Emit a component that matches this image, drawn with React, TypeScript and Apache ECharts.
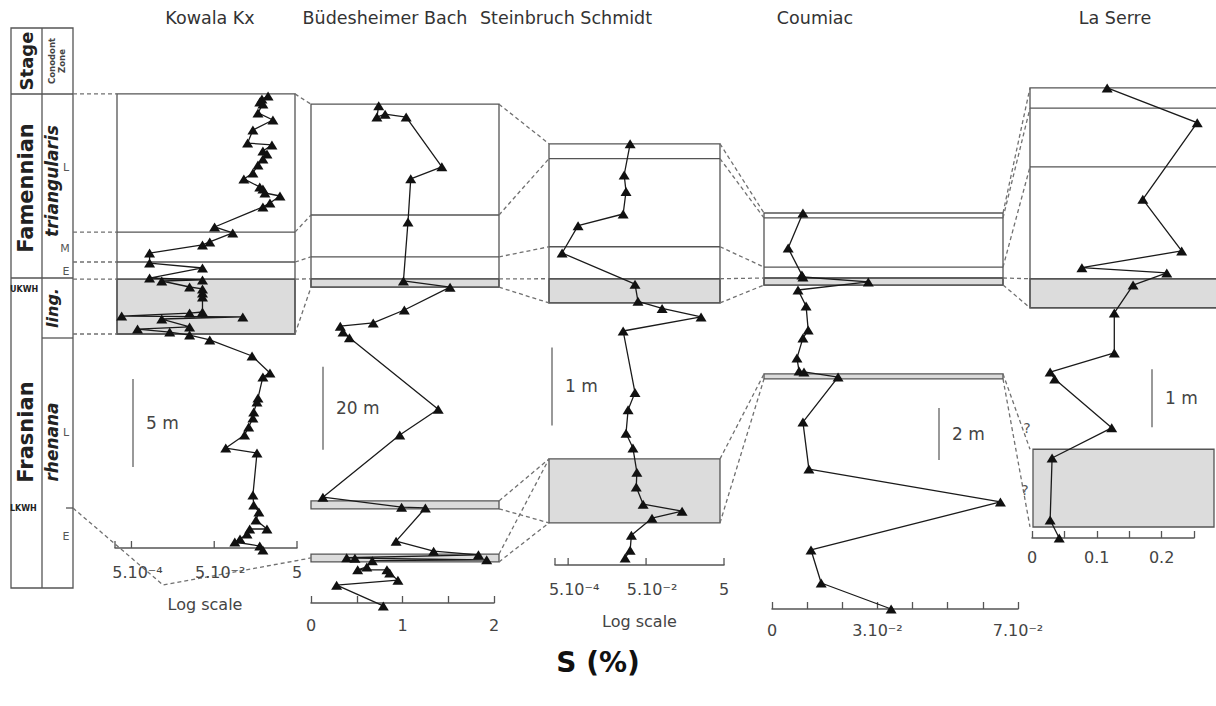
import React, { useEffect, useRef } from "react";
import * as echarts from "echarts";

const FONT = "'DejaVu Sans', 'Liberation Sans', sans-serif";

const sectionNames = ["Kowala Kx", "Büdesheimer Bach", "Steinbruch Schmidt", "Coumiac", "La Serre"];

// [S (%), height above the base of each logged interval (m)]
const kowala: number[][] = [
  [1.0, 25.68], [0.71, 25.51], [0.63, 25.34], [0.75, 25.23], [0.57, 24.72], [1.31, 24.32],
  [0.43, 23.75], [0.32, 23.01], [1.24, 22.9], [0.75, 22.56], [0.94, 22.39], [0.75, 22.1],
  [0.57, 21.76], [0.43, 21.31], [0.26, 20.97], [0.63, 20.51], [0.75, 20.4], [0.84, 20.17],
  [1.94, 20.0], [1.11, 19.6], [0.75, 19.38], [0.051, 18.24], [0.14, 17.9], [0.039, 17.39],
  [0.026, 17.22], [0.00137, 16.76], [0.00137, 16.19], [0.026, 15.91], [0.00137, 15.34],
  [0.026, 15.23], [0.0027, 15.17], [0.0127, 14.83], [0.026, 14.72], [0.026, 14.49],
  [0.026, 14.26], [0.026, 13.41], [0.0127, 13.35], [0.00029, 13.18], [0.245, 13.13],
  [0.0027, 13.01], [0.0127, 12.56], [0.0007, 12.44], [0.0042, 12.27], [0.0127, 12.1],
  [0.039, 11.82], [0.41, 10.91], [1.11, 9.94], [0.75, 9.72], [0.57, 8.52], [0.54, 8.3],
  [0.45, 7.73], [0.43, 7.39], [0.34, 6.88], [0.27, 6.42], [0.095, 5.68], [0.54, 5.4],
  [0.43, 3.01], [0.45, 2.44], [0.6, 2.05], [0.51, 1.59], [0.94, 1.08], [0.36, 1.08],
  [0.31, 0.8], [0.21, 0.51], [0.157, 0.34], [0.63, 0.11], [0.75, -0.11],
];
const budesheim: number[][] = [
  [0.74, 119.8], [0.72, 117.1], [0.81, 117.8], [1.04, 117.1], [1.43, 105.1], [1.09, 102.2],
  [1.06, 91.8], [1.01, 77.6], [1.52, 76.1], [1.02, 70.6], [0.68, 67.5], [0.32, 66.7],
  [0.35, 65.3], [0.42, 63.9], [1.39, 46.7], [0.97, 40.5], [0.13, 25.5], [0.99, 23.1],
  [1.25, 22.9], [0.93, 14.9], [1.34, 12.5], [1.83, 11.6], [0.39, 10.9], [0.48, 10.8],
  [1.92, 10.4], [0.67, 10.2], [0.61, 8.7], [0.51, 8.0], [0.83, 8.0], [0.86, 7.2],
  [0.95, 5.5], [0.28, 4.3], [0.79, -0.7],
];
const steinbruch: number[][] = [
  [0.0195, 5.4], [0.0137, 5.0], [0.0153, 4.79], [0.0129, 4.5], [0.0009, 4.35], [0.00035, 4.0],
  [0.026, 3.6], [0.031, 3.38], [0.129, 3.29], [1.29, 3.18], [0.0129, 3.0], [0.026, 2.21],
  [0.0173, 1.99], [0.0153, 1.69], [0.023, 1.5], [0.029, 1.19], [0.028, 1.0], [0.042, 0.78],
  [0.42, 0.69], [0.071, 0.6], [0.021, 0.38], [0.0195, 0.19], [0.0145, 0.09],
];
const coumiac: number[][] = [
  [0.0088, 15.23], [0.0046, 13.88], [0.0085, 12.85], [0.0088, 12.77], [0.0274, 12.58],
  [0.0074, 12.27], [0.0097, 11.65], [0.0103, 10.73], [0.0088, 10.42], [0.0071, 9.65],
  [0.0077, 9.15], [0.0091, 9.12], [0.0188, 8.92], [0.0088, 7.19], [0.0105, 5.38],
  [0.065, 4.12], [0.0111, 2.27], [0.014, 1.0], [0.0339, 0],
];
const laSerre: number[][] = [
  [0.116, 7.76], [0.255, 7.16], [0.171, 5.84], [0.231, 4.95], [0.077, 4.66], [0.208, 4.57],
  [0.156, 4.36], [0.127, 3.88], [0.127, 3.19], [0.028, 2.86], [0.035, 2.74], [0.123, 1.9],
  [0.031, 1.38], [0.028, 0.31], [0.042, 0],
];

// log-axis ticks
const logTicks = [5e-4, 5e-2, 5];
const logTickLabels = ["5.10⁻⁴", "5.10⁻²", "5"];

// zone boundaries (heights, m) per section
const boxes = [[25.8, 12.16], [120.2, 76.1], [5.4, 3.36], [15.23, 12.46], [7.76, 3.97]];
const zoneLines = [
  [17.95, 16.25, 15.28],
  [93.5, 83.4, 78.1],
  [5.21, 4.08, 3.67],
  [15.04, 13.15, 12.73],
  [7.41, 6.4, 4.47],
];
const grayBands: number[][][] = [
  [[15.28, 12.16]],
  [[78.1, 76.1], [24.6, 22.7], [11.8, 9.9]],
  [[3.67, 3.36], [1.36, 0.54]],
  [[12.73, 12.46], [9.04, 8.85]],
  [[4.47, 3.97], [1.53, 0.19]],
];
// correlation tie lines [height in left section, height in right section]
const tiesColumnKowala = [25.8, 17.95, 16.25, 15.28, 12.16];
const ties = [
  [[25.8, 120.2], [17.95, 93.5], [16.25, 83.4], [15.28, 78.1], [12.16, 76.1]],
  [[120.2, 5.4], [93.5, 5.21], [83.4, 4.08], [78.1, 3.67], [76.1, 3.36], [24.6, 1.36], [22.7, 0.54], [11.8, 1.36], [9.9, 0.54]],
  [[5.4, 15.23], [5.21, 15.04], [4.08, 13.15], [3.67, 12.73], [3.36, 12.46], [1.36, 9.04], [0.54, 8.85]],
  [[15.23, 7.76], [15.04, 7.41], [13.15, 6.4], [12.73, 4.47], [12.46, 3.97], [9.04, 1.53], [8.85, 0.19]],
];
// scale bars [start height, length m, label]
const scaleBars: [number, number, string][] = [
  [4.6, 5, "5 m"], [36.9, 20, "20 m"], [1.79, 1, "1 m"], [5.73, 2, "2 m"], [1.91, 1, "1 m"],
];

// layout (pixels)
const layout = [
  { left: 115, right: 297, axisY: 548, pxPerM: 17.6, yMax: 25.8, boxL: 117, boxR: 295, titleX: 210, barX: 133 },
  { left: 311, right: 494, axisY: 603, pxPerM: 4.15, yMax: 121, boxL: 311, boxR: 499, titleX: 385, barX: 323 },
  { left: 555, right: 724, axisY: 565, pxPerM: 78, yMax: 5.6, boxL: 549, boxR: 720, titleX: 566, barX: 552 },
  { left: 772, right: 1018, axisY: 609, pxPerM: 26, yMax: 15.5, boxL: 764, boxR: 1003, titleX: 815, barX: 939 },
  { left: 1032, right: 1194, axisY: 538, pxPerM: 58, yMax: 8, boxL: 1030, boxR: 1222, titleX: 1115, barX: 1152 },
];

const axisStyle = {
  axisLine: { show: true, onZero: false, lineStyle: { color: "#555", width: 1.5 } },
  splitLine: { show: false },
  axisTick: { show: true, inside: true, length: 7, lineStyle: { color: "#555", width: 1.3 } },
};
const labelStyle = { color: "#444", fontSize: 16, fontFamily: FONT, showMinLabel: true, showMaxLabel: true, hideOverlap: false };

function baseOption() {
  const data = [kowala, budesheim, steinbruch, coumiac, laSerre];
  return {
    animation: false,
    backgroundColor: "#fff",
    grid: layout.map((p) => ({
      left: p.left,
      top: p.axisY - p.yMax * p.pxPerM,
      width: p.right - p.left,
      height: p.yMax * p.pxPerM,
    })),
    yAxis: layout.map((p, i) => ({ type: "value", gridIndex: i, min: 0, max: p.yMax, show: false })),
    xAxis: [
      { type: "log", gridIndex: 0, logBase: 10, min: 2e-4, max: 5, ...axisStyle, axisTick: { show: false }, axisLabel: { show: false } },
      {
        type: "value", gridIndex: 1, min: 0, max: 2, interval: 0.5, ...axisStyle,
        axisLabel: { ...labelStyle, margin: 14, formatter: (v: number) => (Math.abs(v - Math.round(v)) < 1e-6 ? String(Math.round(v)) : "") },
      },
      { type: "log", gridIndex: 2, logBase: 10, min: 2.3e-4, max: 5, ...axisStyle, axisTick: { show: false }, axisLabel: { show: false } },
      {
        type: "value", gridIndex: 3, min: 0, max: 0.07, interval: 0.01, ...axisStyle,
        axisLabel: {
          ...labelStyle, margin: 13,
          formatter: (v: number) => {
            const k = Math.round(v * 100);
            return k === 0 ? "0" : k === 3 ? "3.10⁻²" : k === 7 ? "7.10⁻²" : "";
          },
        },
      },
      {
        type: "value", gridIndex: 4, min: 0, max: 0.25, interval: 0.05, ...axisStyle,
        axisLabel: {
          ...labelStyle, margin: 11,
          formatter: (v: number) => {
            const k = Math.round(v * 100);
            return k === 0 ? "0" : k === 10 ? "0.1" : k === 20 ? "0.2" : "";
          },
        },
      },
    ],
    series: data.map((d, i) => ({
      type: "line",
      name: sectionNames[i],
      xAxisIndex: i,
      yAxisIndex: i,
      data: d,
      symbol: "triangle",
      symbolSize: [11, 9],
      itemStyle: { color: "#111" },
      lineStyle: { color: "#1a1a1a", width: 1.3 },
      clip: false,
      silent: true,
      z: 5,
    })),
  };
}

function buildGraphics(chart: any) {
  const g: any[] = [];
  const Y = (i: number, h: number) => chart.convertToPixel({ yAxisIndex: i }, h) as number;
  const X = (i: number, v: number) => chart.convertToPixel({ xAxisIndex: i }, v) as number;
  const seg = (x1: number, y1: number, x2: number, y2: number, stroke = "#555", lineWidth = 1.3, dash?: number[]) =>
    g.push({ type: "line", silent: true, z: 1, shape: { x1, y1, x2, y2 }, style: { stroke, lineWidth, lineDash: dash || null } });
  const txt = (x: number, y: number, s: string, o: any = {}) =>
    g.push({
      type: "text", x, y, rotation: o.rot || 0, silent: true, z: 10,
      style: {
        text: s, fill: o.color || "#333", fontSize: o.size || 16, fontFamily: FONT,
        fontWeight: o.weight || "normal", fontStyle: o.italic ? "italic" : "normal",
        align: o.align || "center", verticalAlign: "middle", textAlign: o.align || "center", textVerticalAlign: "middle",
        lineHeight: o.lh,
      },
    });
  const dash = [4, 3];
  const dashColor = "#707070";

  // section boxes
  layout.forEach((p, i) => {
    grayBands[i].forEach(([a, b], k) => {
      let xl = p.boxL, xr = p.boxR;
      if (i === 4 && k === 1) { xl = 1033; xr = 1214; }
      g.push({ type: "rect", silent: true, z: 0, shape: { x: xl, y: Y(i, a), width: xr - xl, height: Y(i, b) - Y(i, a) }, style: { fill: "#dcdcdc", stroke: "#555", lineWidth: 1.3 } });
    });
    const [t, b] = boxes[i];
    g.push({ type: "rect", silent: true, z: 0, shape: { x: p.boxL, y: Y(i, t), width: p.boxR - p.boxL, height: Y(i, b) - Y(i, t) }, style: { fill: "none", stroke: "#555", lineWidth: 1.3 } });
    zoneLines[i].forEach((h) => seg(p.boxL, Y(i, h), p.boxR, Y(i, h)));
    // title
    txt(p.titleX, 18, sectionNames[i], { size: 17.5, color: "#333" });
    // scale bar
    const [h0, len, lab] = scaleBars[i];
    const yA = Y(i, h0), yB = Y(i, h0 + len);
    seg(p.barX, yA, p.barX, yB, "#777", 1.5);
    txt(p.barX + 13, (yA + yB) / 2, lab, { size: 17, color: "#444", align: "left" });
  });

  // ties column -> Kowala
  tiesColumnKowala.forEach((h) => seg(73, Y(0, h), layout[0].boxL, Y(0, h), dashColor, 1.3, dash));
  // LKWH tie (column -> below Kowala -> Büdesheimer lower band)
  g.push({ type: "polyline", silent: true, z: 1, shape: { points: [[73, Y(0, 2.27)], [163, Y(0, -2.1)], [layout[1].boxL, Y(1, 10.85)]] }, style: { stroke: dashColor, lineWidth: 1.3, lineDash: dash, fill: "none" } });
  ties.forEach((list, i) => {
    list.forEach(([a, b]) => seg(layout[i].boxR, Y(i, a), layout[i + 1].boxL, Y(i + 1, b), dashColor, 1.3, dash));
  });
  txt(1027, Y(4, 1.9), "?", { size: 14, color: "#555" });
  txt(1025, Y(4, 0.83), "?", { size: 14, color: "#555" });

  // log axes ticks and labels
  [0, 2].forEach((i) => {
    const p = layout[i];
    const y = p.axisY;
    [i === 0 ? 2e-4 : 2.3e-4, ...logTicks].forEach((v) => {
      const x = X(i, v);
      seg(x, y, x, y - 7, "#555", 1.3);
    });
    logTicks.forEach((v, k) => txt(X(i, v) + (k < 2 ? 6 : 0), y + 24, logTickLabels[k], { size: 16, color: "#444" }));
    txt((p.left + p.right) / 2 + (i === 0 ? -1 : 0), y + 56, "Log scale", { size: 16, color: "#444" });
  });

  // stratigraphic column
  const cl = 11, cm = 42, cr = 73, ct = 28, ch = 94, cb = 588;
  g.push({ type: "rect", silent: true, z: 0, shape: { x: cl, y: ct, width: cr - cl, height: cb - ct }, style: { fill: "none", stroke: "#555", lineWidth: 1.3 } });
  seg(cm, ct, cm, cb);
  seg(cl, ch, cr, ch);
  seg(cl, 278, cr, 278);
  seg(cm, 338, cr, 338);
  seg(66, 508, cr, 508);
  const R = Math.PI / 2;
  txt(26, 61, "Stage", { rot: R, size: 18, weight: "bold", color: "#222" });
  txt(57, 61, "Conodont\nZone", { rot: R, size: 8.5, weight: "bold", color: "#444", lh: 10 });
  txt(26, 188, "Famennian", { rot: R, size: 21, weight: "bold", color: "#222" });
  txt(26, 432, "Frasnian", { rot: R, size: 21, weight: "bold", color: "#222" });
  txt(52, 181, "triangularis", { rot: R, size: 17, weight: "bold", italic: true, color: "#222" });
  txt(52, 308, "ling.", { rot: R, size: 16, weight: "bold", italic: true, color: "#222" });
  txt(52, 442, "rhenana", { rot: R, size: 17, weight: "bold", italic: true, color: "#222" });
  txt(66, 167, "L", { size: 11, color: "#555" });
  txt(65, 248, "M", { size: 11, color: "#555" });
  txt(66, 271, "E", { size: 11, color: "#555" });
  txt(66, 432, "L", { size: 11, color: "#555" });
  txt(66, 536, "E", { size: 11, color: "#555" });
  txt(10, 289, "UKWH", { size: 8, weight: "bold", color: "#222", align: "left" });
  txt(10, 508, "LKWH", { size: 8, weight: "bold", color: "#222", align: "left" });

  // global x-axis title
  txt(598, 662, "S (%)", { size: 28, weight: "bold", color: "#111" });
  return g;
}

export default function App() {
  const ref = useRef<HTMLDivElement>(null);
  useEffect(() => {
    const chart = echarts.init(ref.current!, null, { renderer: "svg" });
    chart.setOption(baseOption() as any);
    chart.setOption({ graphic: { elements: buildGraphics(chart) } } as any);
    return () => chart.dispose();
  }, []);
  return <div ref={ref} style={{ position: "fixed", left: 0, top: 0, width: 1216, height: 706, background: "#fff" }} />;
}
